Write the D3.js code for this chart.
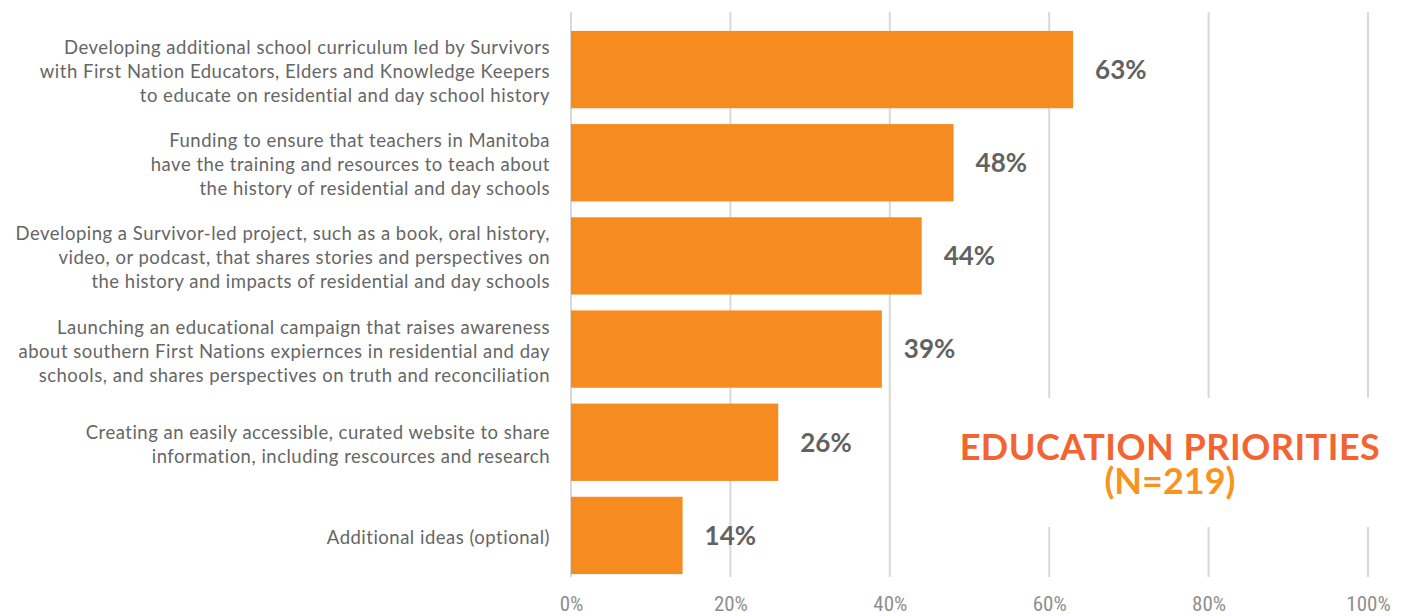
<!DOCTYPE html>
<html>
<head>
<meta charset="utf-8">
<script src="https://cdn.jsdelivr.net/npm/d3@7"></script>
<style>
  html, body { margin: 0; padding: 0; background: #fff; }
  svg { display: block; }
</style>
</head>
<body>
<svg id="chart" width="1418" height="616"></svg>
<script>
// Survey responses: education priorities
const categories = [
  ["Developing additional school curriculum led by Survivors",
   "with First Nation Educators, Elders and Knowledge Keepers",
   "to educate on residential and day school history"],
  ["Funding to ensure that teachers in Manitoba",
   "have the training and resources to teach about",
   "the history of residential and day schools"],
  ["Developing a Survivor-led project, such as a book, oral history,",
   "video, or podcast, that shares stories and perspectives on",
   "the history and impacts of residential and day schools"],
  ["Launching an educational campaign that raises awareness",
   "about southern First Nations expiernces in residential and day",
   "schools, and shares perspectives on truth and reconciliation"],
  ["Creating an easily accessible, curated website to share",
   "information, including rescources and research"],
  ["Additional ideas (optional)"]
];
const values = [63, 48, 44, 39, 26, 14];
const tickValues = [0, 20, 40, 60, 80, 100];
const titleLines = ["EDUCATION PRIORITIES", "(N=219)"];

const svg = d3.select("#chart");
const fontMain = "Lato, 'Noto Sans', sans-serif";

const x = d3.scaleLinear().domain([0, 100]).range([571, 1368]);
const y = d3.scaleBand()
  .domain(d3.range(categories.length))
  .range([23, 582])
  .paddingInner(0.17)
  .paddingOuter(0.085);

// Vertical gridlines
svg.append("g")
  .selectAll("line")
  .data(tickValues)
  .join("line")
  .attr("x1", d => x(d)).attr("x2", d => x(d))
  .attr("y1", 12).attr("y2", 577)
  .attr("stroke", "#d9d9d9")
  .attr("stroke-width", 2);

// Bars
svg.append("g")
  .selectAll("rect")
  .data(values)
  .join("rect")
  .attr("x", x(0))
  .attr("y", (d, i) => y(i))
  .attr("width", d => x(d) - x(0))
  .attr("height", y.bandwidth())
  .attr("fill", "#F68B1F");

// Value labels
svg.append("g")
  .selectAll("text")
  .data(values)
  .join("text")
  .attr("x", d => x(d) + 22)
  .attr("y", (d, i) => y(i) + y.bandwidth() / 2)
  .attr("dy", "0.36em")
  .attr("font-family", fontMain)
  .attr("font-weight", 700)
  .attr("font-size", 26)
  .attr("fill", "#626262")
  .text(d => d + "%");

// Category labels, right-aligned and wrapped
const lineH = 24;
const catG = svg.append("g");
categories.forEach((lines, i) => {
  const cy = y(i) + y.bandwidth() / 2 + 2;
  const t = catG.append("text")
    .attr("text-anchor", "end")
    .attr("font-family", fontMain)
    .attr("font-size", 18.5)
    .attr("letter-spacing", 0.5)
    .attr("fill", "#666666");
  lines.forEach((ln, j) => {
    t.append("tspan")
      .attr("x", 550)
      .attr("y", cy + (j - (lines.length - 1) / 2) * lineH)
      .attr("dy", "0.35em")
      .text(ln);
  });
});

// Bottom axis labels
const axis = d3.axisBottom(x)
  .tickValues(tickValues)
  .tickFormat(d => d + "%")
  .tickSize(0)
  .tickPadding(0);
const ax = svg.append("g")
  .attr("transform", "translate(0,596)")
  .call(axis);
ax.select(".domain").remove();
ax.selectAll("text")
  .attr("font-family", "'Liberation Sans Narrow', 'Roboto Condensed', sans-serif")
  .attr("font-size", 21)
  .attr("fill", "#8f8f8f");

// Title block with white backing over the gridlines
const tg = svg.append("g");
tg.append("rect")
  .attr("x", 950).attr("y", 398)
  .attr("width", 440).attr("height", 129)
  .attr("fill", "#fff");
const title = tg.append("text")
  .attr("text-anchor", "middle")
  .attr("font-family", fontMain)
  .attr("font-weight", 700)
  .attr("font-size", 36);
title.append("tspan")
  .attr("x", 1170).attr("y", 460)
  .attr("letter-spacing", 0.5)
  .attr("fill", "#F26531")
  .text(titleLines[0]);
title.append("tspan")
  .attr("x", 1170).attr("y", 494)
  .attr("fill", "#F7941E")
  .text(titleLines[1]);
</script>
</body>
</html>
